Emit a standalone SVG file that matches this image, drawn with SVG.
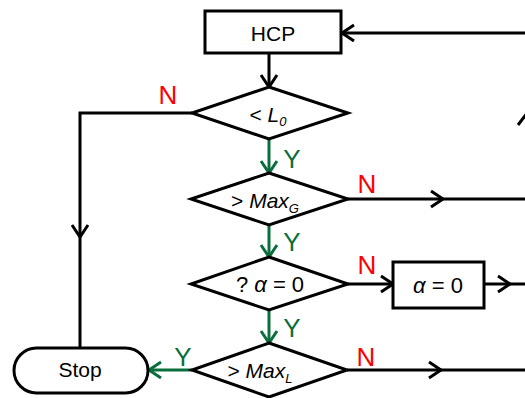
<svg xmlns="http://www.w3.org/2000/svg" width="525" height="398" viewBox="0 0 525 398">
  <defs>
    <style>
      .shape { fill: #ffffff; stroke: #000000; stroke-width: 3; stroke-linejoin: miter; }
      .line { fill: none; stroke: #000000; stroke-width: 3; }
      .yes { fill: none; stroke: #0a6e3c; stroke-width: 3; }
      .txt { font-family: "Liberation Sans", Arial, sans-serif; font-size: 21px; fill: #000000; text-anchor: middle; }
      .big { font-size: 22px; }
      .it { font-style: italic; }
      .sub { font-size: 13px; font-style: italic; }
      .n { font-family: "Liberation Sans", Arial, sans-serif; font-size: 26px; fill: #ff0000; text-anchor: middle; }
      .y { font-family: "Liberation Sans", Arial, sans-serif; font-size: 26px; fill: #0a6e3c; text-anchor: middle; }
    </style>
    <marker id="arrow" markerUnits="userSpaceOnUse" markerWidth="20" markerHeight="20" refX="0" refY="0" viewBox="-14 -10 16 20" orient="auto" overflow="visible">
      <path d="M-12,-8 L0,0 L-12,8" fill="none" stroke="#000000" stroke-width="3"/>
    </marker>
    <marker id="arrowG" markerUnits="userSpaceOnUse" markerWidth="20" markerHeight="20" refX="0" refY="0" viewBox="-14 -10 16 20" orient="auto" overflow="visible">
      <path d="M-12,-8 L0,0 L-12,8" fill="none" stroke="#0a6e3c" stroke-width="3"/>
    </marker>
  </defs>

  <rect width="525" height="398" fill="#ffffff"/>

  <g id="connectors">
    <!-- feedback into HCP -->
    <line class="line" x1="527" y1="33" x2="342" y2="33" marker-end="url(#arrow)"/>
    <!-- upward arrow at the right edge -->
    <path class="line" d="M518,125 L527,113"/>
    <!-- HCP to first test -->
    <line class="line" x1="269" y1="53" x2="269" y2="87" marker-end="url(#arrow)"/>
    <!-- < L0 : N branch down to Stop -->
    <polyline class="line" points="192,113 80,113 80,237" marker-end="url(#arrow)"/>
    <line class="line" x1="80" y1="236" x2="80" y2="348"/>
    <!-- Y branches -->
    <line class="yes" x1="269" y1="139" x2="269" y2="173" marker-end="url(#arrowG)"/>
    <line class="yes" x1="269" y1="225" x2="269" y2="257" marker-end="url(#arrowG)"/>
    <line class="yes" x1="269" y1="310" x2="269" y2="343" marker-end="url(#arrowG)"/>
    <line class="yes" x1="192" y1="370" x2="149" y2="370" marker-end="url(#arrowG)"/>
    <!-- > MaxG : N -->
    <path class="line" d="M348,199 L443,199 L527,199" marker-mid="url(#arrow)"/>
    <!-- ? alpha = 0 : N -->
    <line class="line" x1="348" y1="284" x2="393" y2="284" marker-end="url(#arrow)"/>
    <path class="line" d="M484,284 L510,284 L527,284" marker-mid="url(#arrow)"/>
    <!-- > MaxL : N -->
    <path class="line" d="M347,370 L441,370 L527,370" marker-mid="url(#arrow)"/>
  </g>

  <g id="hcp">
    <rect class="shape" x="205" y="11" width="136" height="42"/>
    <text class="txt" x="273" y="41">HCP</text>
  </g>

  <g id="test-l0">
    <polygon class="shape" points="269,87 348,113 269,139 192,113"/>
    <text class="txt" x="268" y="122">&lt; <tspan class="it">L</tspan><tspan class="sub" dy="4">0</tspan></text>
  </g>

  <g id="test-maxg">
    <polygon class="shape" points="269,173 348,199 269,225 191,199"/>
    <text class="txt" x="265" y="208">&gt; <tspan class="it">Max</tspan><tspan class="sub" dy="5">G</tspan></text>
  </g>

  <g id="test-alpha">
    <polygon class="shape" points="269,257 348,284 269,310 191,284"/>
    <text class="txt big" x="270" y="292">? <tspan class="it">α</tspan> = 0</text>
  </g>

  <g id="set-alpha">
    <rect class="shape" x="393" y="262" width="91" height="46"/>
    <text class="txt big" x="438" y="293"><tspan class="it">α</tspan> = 0</text>
  </g>

  <g id="test-maxl">
    <polygon class="shape" points="269,343 347,370 269,397 192,370"/>
    <text class="txt" x="260" y="378">&gt; <tspan class="it">Max</tspan><tspan class="sub" dy="5">L</tspan></text>
  </g>

  <g id="stop">
    <rect class="shape" x="14" y="348" width="134" height="45" rx="22.5" ry="22.5"/>
    <text class="txt" x="80" y="377">Stop</text>
  </g>

  <g id="labels">
    <text class="n" x="168" y="104">N</text>
    <text class="y" x="292" y="168">Y</text>
    <text class="n" x="367" y="193">N</text>
    <text class="y" x="292" y="251">Y</text>
    <text class="n" x="367" y="274">N</text>
    <text class="y" x="292" y="337">Y</text>
    <text class="y" x="183" y="366">Y</text>
    <text class="n" x="366" y="366">N</text>
  </g>
</svg>
